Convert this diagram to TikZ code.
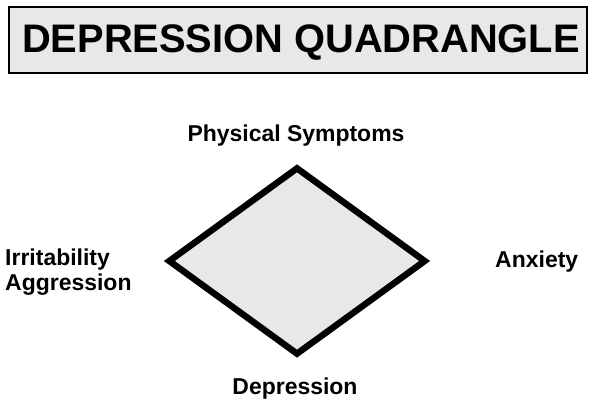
\documentclass[tikz,border=0pt]{standalone}
\usepackage{fontspec}
\setmainfont{Liberation Sans}
\usetikzlibrary{shapes.geometric}
\definecolor{quadgray}{HTML}{E8E8E8}

\begin{document}
\begin{tikzpicture}[
  x=0.03cm, y=-0.03cm,
  titlebox/.style={draw, line width=1.6pt, fill=quadgray, minimum width=578*0.03cm, minimum height=66*0.03cm, inner sep=0pt},
  quad/.style={diamond, draw, line width=5.5pt, fill=quadgray, minimum width=258*0.03cm, minimum height=188*0.03cm, inner sep=0pt},
  lbl/.style={font=\bfseries\fontsize{19.6}{21.3}\selectfont, anchor=base, inner sep=0pt, align=left}
]
\useasboundingbox (0,0) rectangle (592,402);
% Title
\node[titlebox] (title) at (298,40) {};
\node[font=\bfseries\fontsize{34}{40}\selectfont, anchor=base, inner sep=0pt] (titletext) at (301,53) {DEPRESSION QUADRANGLE};

% Quadrangle
\node[quad] (quad) at (297,261) {};

% Corners
\node[lbl] (phys) at (296,142) {Physical Symptoms};
\node[lbl] (depr) at (295,394) {Depression};
\node[lbl, anchor=base west] (irr) at (5,290) {Irritability\\Aggression};
\node[lbl, anchor=base west] (anx) at (495,268) {Anxiety};
\end{tikzpicture}
\end{document}
